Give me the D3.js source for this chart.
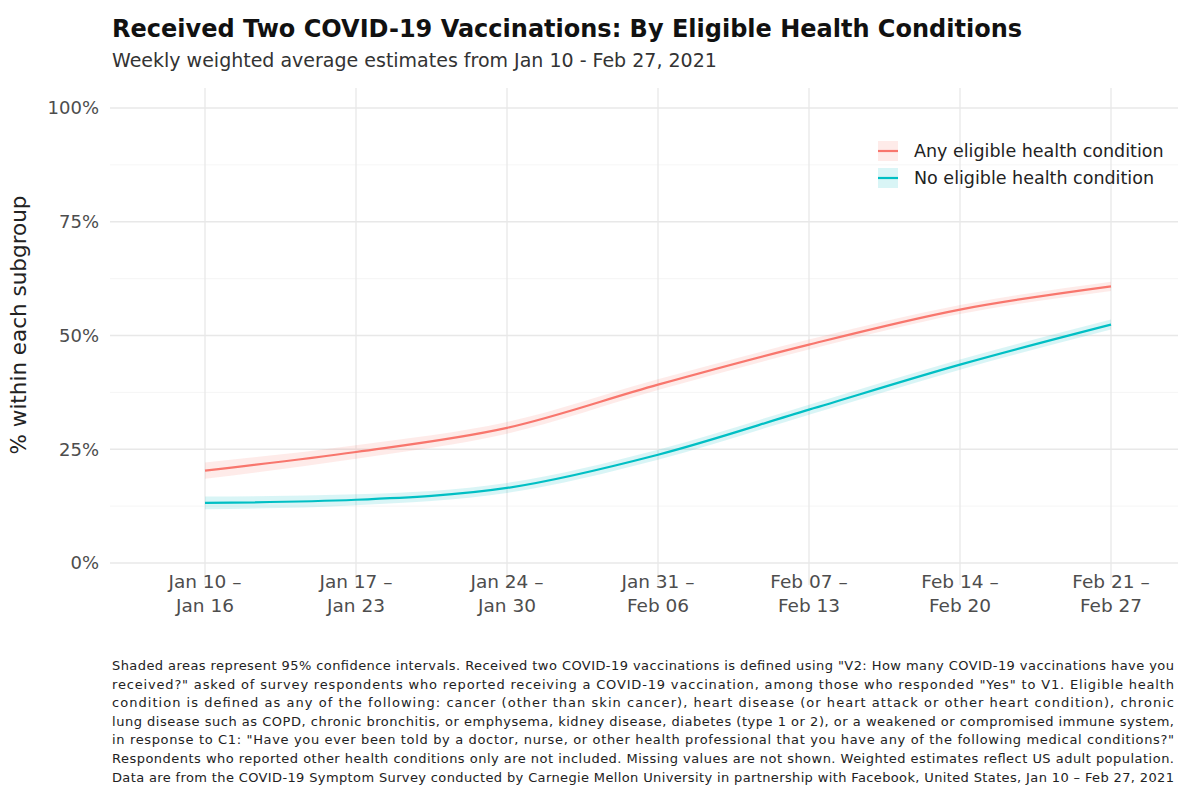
<!DOCTYPE html>
<html><head><meta charset="utf-8">
<script src="https://cdn.jsdelivr.net/npm/d3@7"></script>
<style>body{margin:0;background:#fff;}svg{display:block;font-family:"DejaVu Sans",sans-serif;}</style>
</head><body><svg id="c" width="1191" height="789"></svg>
<script>
const weeks = [["Jan 10 –","Jan 16"],["Jan 17 –","Jan 23"],["Jan 24 –","Jan 30"],["Jan 31 –","Feb 06"],["Feb 07 –","Feb 13"],["Feb 14 –","Feb 20"],["Feb 21 –","Feb 27"]];
const seriesNames = ["Any eligible health condition","No eligible health condition"];
const anyCond = [0.203, 0.244, 0.297, 0.392, 0.480, 0.557, 0.608];
const anyLow  = [0.185, 0.229, 0.284, 0.380, 0.469, 0.547, 0.598];
const anyHigh = [0.221, 0.259, 0.310, 0.404, 0.491, 0.567, 0.618];
const noCond  = [0.132, 0.139, 0.165, 0.238, 0.337, 0.436, 0.524];
const noLow   = [0.118, 0.127, 0.154, 0.227, 0.326, 0.425, 0.513];
const noHigh  = [0.146, 0.151, 0.176, 0.249, 0.348, 0.447, 0.535];
const yTicks = [0, 0.25, 0.5, 0.75, 1];
const colors = ["#F8766D", "#00BFC4"];
const captionLines = [
 "Shaded areas represent 95% confidence intervals. Received two COVID-19 vaccinations is defined using \"V2: How many COVID-19 vaccinations have you",
 "received?\" asked of survey respondents who reported receiving a COVID-19 vaccination, among those who responded \"Yes\" to V1. Eligible health",
 "condition is defined as any of the following: cancer (other than skin cancer), heart disease (or heart attack or other heart condition), chronic",
 "lung disease such as COPD, chronic bronchitis, or emphysema, kidney disease, diabetes (type 1 or 2), or a weakened or compromised immune system,",
 "in response to C1: \"Have you ever been told by a doctor, nurse, or other health professional that you have any of the following medical conditions?\"",
 "Respondents who reported other health conditions only are not included. Missing values are not shown. Weighted estimates reflect US adult population.",
 "Data are from the COVID-19 Symptom Survey conducted by Carnegie Mellon University in partnership with Facebook, United States, Jan 10 – Feb 27, 2021"
];

const svg = d3.select("#c");
const panel = {left:110, right:1178, top:88, bottom:585};
const x = d3.scalePoint().domain(d3.range(weeks.length)).range([205, 1111]);
const y = d3.scaleLinear().domain([0,1]).range([563,108]);

// gridlines
const g = svg.append("g");
d3.range(0.125, 1, 0.25).forEach(v => g.append("line").attr("x1",panel.left).attr("x2",panel.right).attr("y1",y(v)).attr("y2",y(v)).attr("stroke","#f3f3f3").attr("stroke-width",0.8));
yTicks.forEach(v => g.append("line").attr("x1",panel.left).attr("x2",panel.right).attr("y1",y(v)).attr("y2",y(v)).attr("stroke","#e8e8e8").attr("stroke-width",1.3));
x.domain().forEach(i => g.append("line").attr("x1",x(i)).attr("x2",x(i)).attr("y1",panel.top).attr("y2",panel.bottom).attr("stroke","#e8e8e8").attr("stroke-width",1.3));

// y axis labels
const yAxis = d3.axisLeft(y).tickValues(yTicks).tickFormat(d3.format(".0%")).tickSize(0).tickPadding(0);
svg.append("g").attr("transform","translate(99,0)").call(yAxis)
  .call(s=>s.select(".domain").remove())
  .selectAll("text").attr("font-size",18).attr("fill","#4d4d4d").attr("font-family","DejaVu Sans, sans-serif");

// x axis labels
const xl = svg.append("g");
x.domain().forEach(i => {
  const t = xl.append("text").attr("x",x(i)).attr("y",588).attr("text-anchor","middle").attr("font-size",18.5).attr("fill","#4d4d4d");
  t.append("tspan").attr("x",x(i)).attr("dy",0).text(weeks[i][0]);
  t.append("tspan").attr("x",x(i)).attr("dy",24).text(weeks[i][1]);
});

// ribbons and lines
const series = [
  {v:anyCond, lo:anyLow, hi:anyHigh},
  {v:noCond, lo:noLow, hi:noHigh}
];
const area = d3.area().x((d,i)=>x(i)).y0(d=>y(d[0])).y1(d=>y(d[1])).curve(d3.curveMonotoneX);
const line = d3.line().x((d,i)=>x(i)).y(d=>y(d)).curve(d3.curveMonotoneX);
series.forEach((s,k)=>{
  svg.append("path").datum(s.lo.map((l,i)=>[l,s.hi[i]])).attr("d",area).attr("fill",colors[k]).attr("opacity",0.15);
});
series.forEach((s,k)=>{
  svg.append("path").datum(s.v).attr("d",line).attr("fill","none").attr("stroke",colors[k]).attr("stroke-width",2.2);
});

// legend
const lg = svg.append("g");
seriesNames.forEach((n,k)=>{
  const yy = 151 + k*27;
  lg.append("rect").attr("x",878).attr("y",yy-10).attr("width",20).attr("height",20).attr("fill",colors[k]).attr("opacity",0.15);
  lg.append("line").attr("x1",878).attr("x2",898).attr("y1",yy).attr("y2",yy).attr("stroke",colors[k]).attr("stroke-width",2.2);
  lg.append("text").attr("x",914).attr("y",yy+6).attr("font-size",17.5).attr("fill","#222").text(n);
});

// titles
svg.append("text").attr("x",112).attr("y",37).attr("font-size",24).attr("font-weight","bold").attr("fill","#111").text("Received Two COVID-19 Vaccinations: By Eligible Health Conditions");
svg.append("text").attr("x",112).attr("y",67).attr("font-size",19).attr("fill","#333").text("Weekly weighted average estimates from Jan 10 - Feb 27, 2021");
svg.append("text").attr("transform","translate(26,325) rotate(-90)").attr("text-anchor","middle").attr("font-size",21.5).attr("fill","#222").text("% within each subgroup");

// caption
const cap = svg.append("text").attr("x",112).attr("y",670).attr("font-size",13).attr("fill","#222");
captionLines.forEach((l,i)=>cap.append("tspan").attr("x",112).attr("dy",i?18.6:0).attr("textLength",1062).attr("lengthAdjust","spacing").text(l));
</script></body></html>
